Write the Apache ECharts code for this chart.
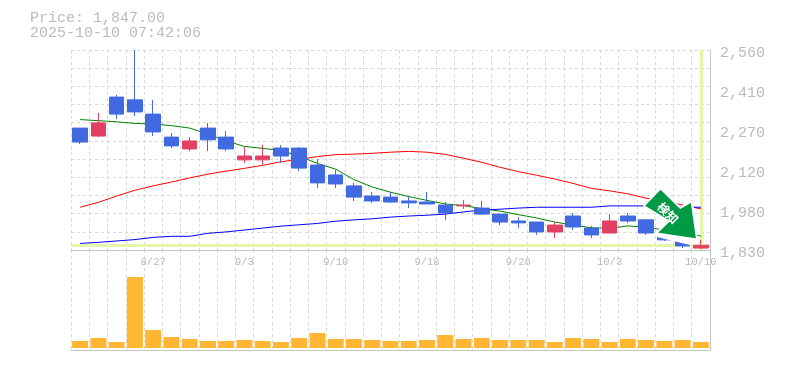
<!DOCTYPE html>
<html><head><meta charset="utf-8">
<style>html,body{margin:0;padding:0;background:#fff}#c{width:785px;height:370px}</style>
<script src="https://cdn.jsdelivr.net/npm/echarts@6/dist/echarts.min.js"></script>
</head><body><div id="c"></div>
<script>
const dates=['8/21','8/22','8/25','8/26','8/27','8/28','8/29','9/1','9/2','9/3','9/4','9/5','9/8','9/9','9/10','9/11','9/12','9/16','9/17','9/18','9/19','9/22','9/24','9/25','9/26','9/29','9/30','10/1','10/2','10/3','10/6','10/7','10/8','10/9','10/10'];
const opens=[2275,2246,2388,2378,2326,2242,2199,2275,2242,2159,2159,2202,2202,2140,2104,2064,2027,2023,2009,2005,1994,1991,1983,1961,1936,1932,1896,1954,1910,1892,1954,1940,1885,1867,1837];
const closes=[2224,2294,2326,2334,2261,2210,2228,2232,2199,2173,2173,2173,2129,2075,2071,2023,2009,2005,2002,1998,1965,1994,1961,1932,1929,1896,1921,1914,1885,1936,1936,1892,1867,1845,1847];
const lows=[2217,2242,2308,2319,2246,2202,2191,2191,2191,2148,2140,2148,2118,2056,2056,2009,2002,2002,1983,1998,1940,1980,1958,1921,1910,1885,1874,1903,1874,1892,1929,1885,1863,1837,1834];
const highs=[2275,2330,2396,2560,2378,2257,2242,2294,2264,2206,2213,2213,2206,2162,2122,2075,2042,2042,2027,2042,2005,2012,2009,1961,1950,1932,1932,1965,1918,1961,1965,1943,1888,1870,1867];
const maShort=[2306,2302,2298,2292,2290,2284,2275,2253,2228,2208,2201,2193,2173,2146,2125,2087,2060,2041,2025,2011,1998,1992,1981,1972,1959,1947,1932,1921,1911,1909,1918,1913,1903,1892,1881];
const maMid=[1986,2004,2027,2048,2064,2078,2093,2107,2118,2128,2139,2152,2161,2171,2178,2180,2183,2187,2190,2187,2179,2165,2150,2132,2116,2103,2089,2073,2055,2046,2035,2019,2009,1994,1980];
const maLong=[1854,1858,1863,1868,1876,1880,1880,1891,1896,1903,1910,1917,1922,1927,1935,1940,1944,1950,1954,1957,1961,1969,1976,1979,1983,1986,1986,1986,1986,1991,1991,1991,1989,1987,1986];
const volumes=[7,10,6,71,18,11,9,7,7,8,7,6,10,15,9,9,8,7,7,8,13,9,10,8,8,8,6,10,9,6,9,8,7,8,6];
const priceTicks=[1830,1976,2122,2268,2414,2560];
const priceTickLabels=['1,830','1,980','2,120','2,270','2,410','2,560'];
const lastPrice=1847;
const lastIndex=dates.length-1;
const titleText='Price: 1,847.00\n2025-10-10 07:42:06';
const badgeText='検知';

const GREY='#c4c4c4',TXT='#bbbbbb',GRID='#d8d8d8',MONO='"Liberation Mono",monospace';
const candles=dates.map((_,i)=>[opens[i],closes[i],lows[i],highs[i]]);
const dashed={show:true,lineStyle:{color:GRID,type:[3,3],width:1}};
const chart=echarts.init(document.getElementById('c'),null,{renderer:'canvas'});
const lineS=(name,data,color)=>({name,type:'line',data,xAxisIndex:0,yAxisIndex:0,symbol:'none',z:2,silent:true,animation:false,lineStyle:{color,width:1}});
chart.setOption({
 animation:false,
 title:{text:titleText,left:30,top:11,padding:0,textStyle:{color:TXT,fontFamily:MONO,fontSize:15,fontWeight:'normal',lineHeight:15}},
 grid:[{left:71,top:50,width:639,height:200},{left:71,top:250,width:639,height:100}],
 xAxis:[
  {type:'category',gridIndex:0,data:dates,axisLine:{onZero:false,lineStyle:{color:GREY,width:1}},axisTick:{show:false},
   axisLabel:{color:TXT,fontFamily:MONO,fontSize:10.5,margin:7,interval:(i)=>i%5===4},splitLine:{...dashed,interval:0}},
  {type:'category',gridIndex:1,data:dates,axisLine:{onZero:false,lineStyle:{color:GREY,width:1}},axisTick:{show:false},
   axisLabel:{show:false},splitLine:{...dashed,interval:0}}
 ],
 yAxis:[
  {type:'value',gridIndex:0,position:'right',min:1830,max:2560,interval:146,
   axisLine:{show:true,onZero:false,lineStyle:{color:GREY,width:1}},axisTick:{show:false},splitLine:{show:false},
   axisLabel:{color:TXT,fontFamily:MONO,fontSize:15,margin:10,verticalAlign:'top',lineHeight:6,
    formatter:v=>priceTickLabels[priceTicks.indexOf(Math.round(v))]}},
  {type:'value',gridIndex:0,position:'left',min:0,max:11,interval:1,axisLine:{show:false},axisTick:{show:false},axisLabel:{show:false},splitLine:dashed},
  {type:'value',gridIndex:1,position:'right',min:-2,max:98,axisLine:{show:true,onZero:false,lineStyle:{color:GREY,width:1}},axisTick:{show:false},axisLabel:{show:false},splitLine:{show:false}}
 ],
 series:[
  {name:'price',type:'line',data:[],xAxisIndex:0,yAxisIndex:0,symbol:'none',silent:true,
   markLine:{silent:true,symbol:'none',z:1,label:{show:false},animation:false,lineStyle:{color:'#e4f7a8',width:3,type:'solid'},
    data:[{yAxis:lastPrice},{xAxis:lastIndex}]}},
  lineS('short',maShort,'#008000'),
  lineS('mid',maMid,'#ff0000'),
  lineS('long',maLong,'#0000ff'),
  {name:'candles',type:'candlestick',data:candles,xAxisIndex:0,yAxisIndex:0,z:3,barWidth:15,silent:true,
   itemStyle:{color:'#e24163',borderColor:'#e24163',color0:'#4169e1',borderColor0:'#4169e1',borderWidth:1}},
  {name:'badge',type:'custom',xAxisIndex:0,yAxisIndex:0,z:4,silent:true,clip:false,data:[[lastIndex,lastPrice]],
   encode:{x:0,y:1},
   renderItem:(p,api)=>{
    const c=api.coord([api.value(0),api.value(1)]);
    const at=o=>[c[0]+o[0],c[1]+o[1]];
    const halo=[[-40.3,-58],[-20.7,-38.5],[-8,-45],[-3,-5],[-10,0],[-44,-8.3],[-46,-12],[-33,-24.3],[-58,-39.6]].map(at);
    const pts=[[-40.3,-55.6],[-20.7,-36.3],[-10,-42.3],[-5,-7],[-42.7,-12.6],[-30.7,-24.3],[-55.7,-39.6]].map(at);
    return {type:'group',children:[
     {type:'polygon',shape:{points:halo},style:{fill:'#fff'}},
     {type:'polygon',shape:{points:pts},style:{fill:'#009944'}},
     {type:'text',x:c[0]-33,y:c[1]-32.3,rotation:-Math.PI/4,style:{text:badgeText,fill:'#fff',font:'bold 12px "Noto Sans CJK JP"',align:'center',verticalAlign:'middle'}}
    ]};
   }},
  {name:'volume',type:'bar',data:volumes,xAxisIndex:1,yAxisIndex:2,barWidth:16,silent:true,itemStyle:{color:'#ffb733'}}
 ]
});
</script></body></html>
